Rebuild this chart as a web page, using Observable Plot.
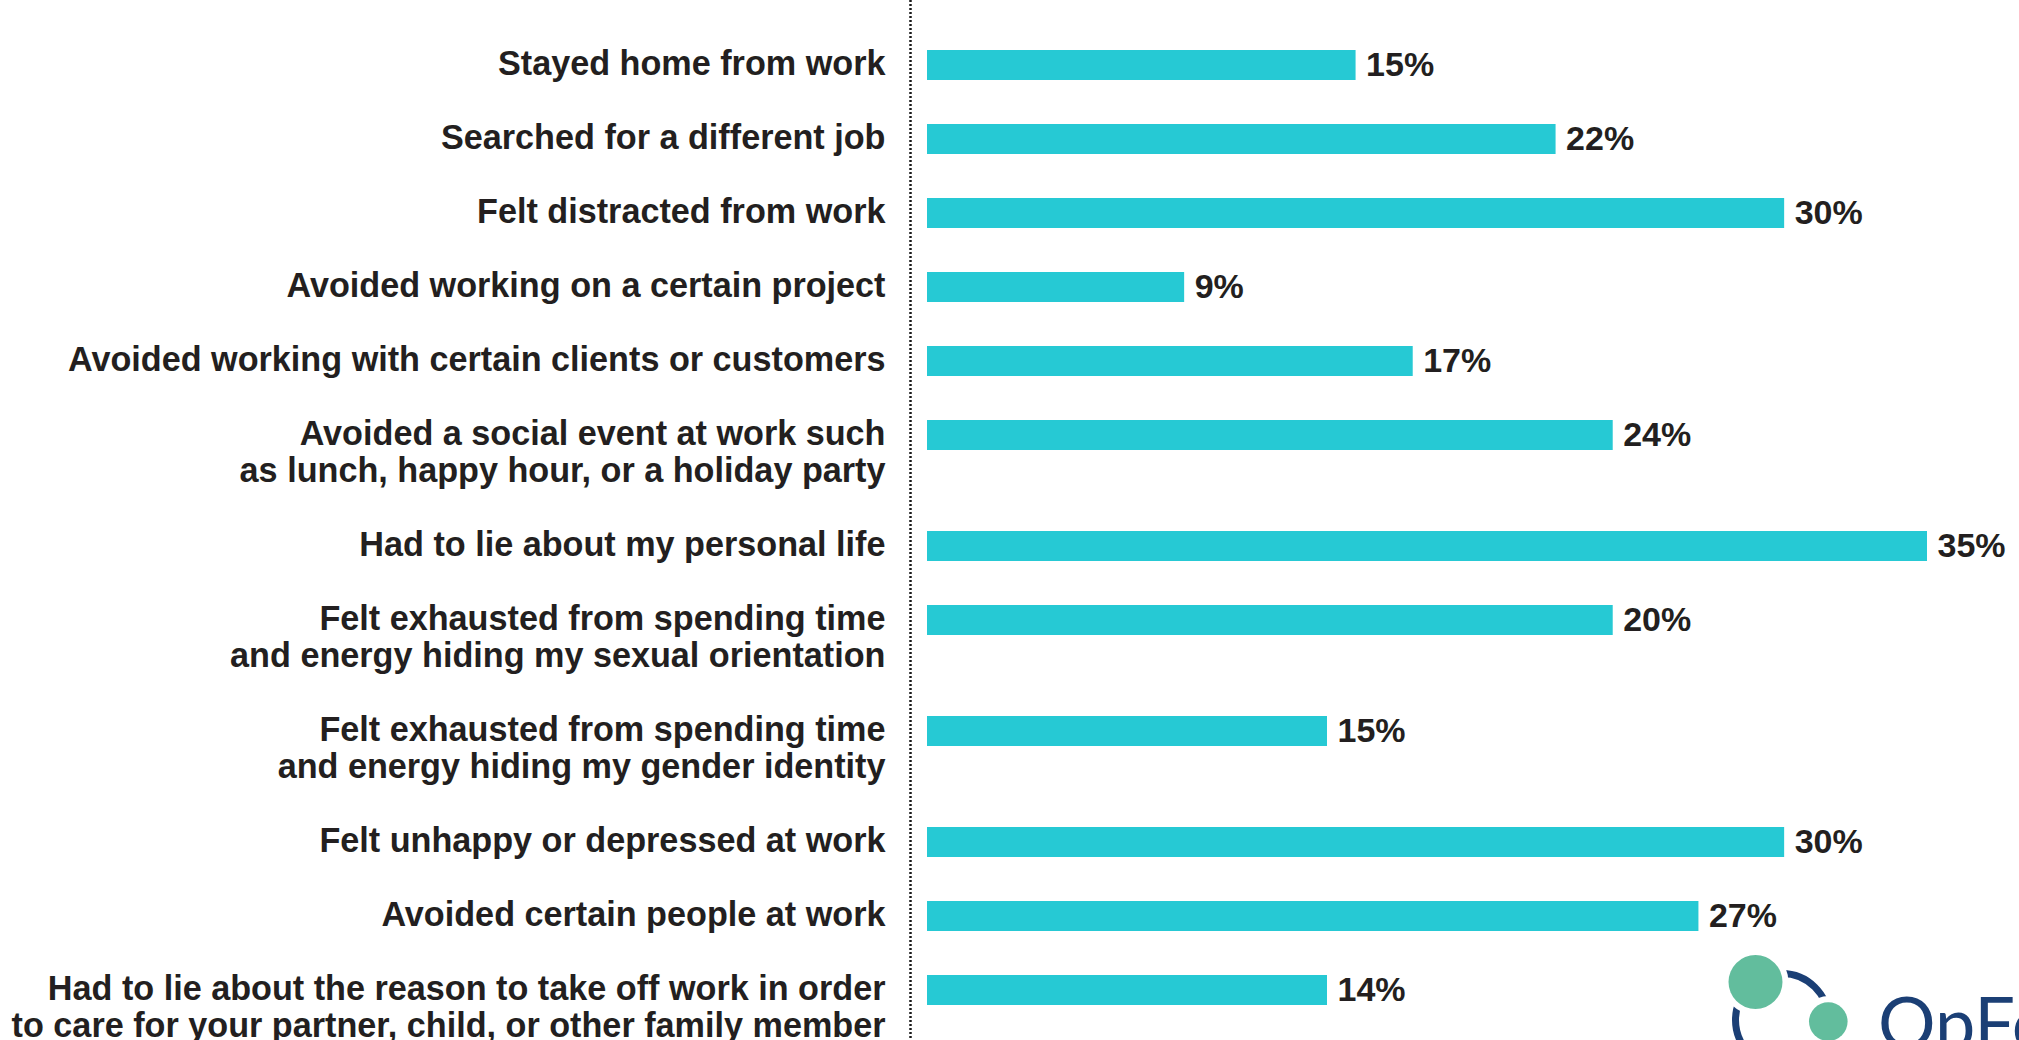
<!DOCTYPE html>
<html>
<head>
<meta charset="utf-8">
<script src="https://cdn.jsdelivr.net/npm/d3@7"></script>
<script src="https://cdn.jsdelivr.net/npm/@observablehq/plot@0.6"></script>
<style>
  html, body { margin: 0; padding: 0; background: #ffffff; }
  #wrap { position: relative; width: 2019px; height: 1040px; overflow: hidden; }
  #logo { position: absolute; left: 0; top: 0; }
</style>
</head>
<body>
<div id="wrap">
  <div id="chart"></div>
  <svg id="logo" width="2019" height="1040" viewBox="0 0 2019 1040">
    <circle cx="1782" cy="1020" r="46.5" fill="none" stroke="#1b3f75" stroke-width="7"/>
    <circle cx="1755.5" cy="982" r="33" fill="#ffffff"/>
    <circle cx="1755.5" cy="982" r="27" fill="#62bd9d"/>
    <circle cx="1828.3" cy="1021.6" r="25.5" fill="#ffffff"/>
    <circle cx="1828.3" cy="1021.6" r="19.3" fill="#62bd9d"/>
    <text x="1878" y="1049" font-family="Lato, 'Open Sans', sans-serif" font-size="72" fill="#1b3f75">OpFo</text>
  </svg>
</div>
<script>
// ---- data ----
const categories = [
  "Stayed home from work",
  "Searched for a different job",
  "Felt distracted from work",
  "Avoided working on a certain project",
  "Avoided working with certain clients or customers",
  "Avoided a social event at work such\nas lunch, happy hour, or a holiday party",
  "Had to lie about my personal life",
  "Felt exhausted from spending time\nand energy hiding my sexual orientation",
  "Felt exhausted from spending time\nand energy hiding my gender identity",
  "Felt unhappy or depressed at work",
  "Avoided certain people at work",
  "Had to lie about the reason to take off work in order\nto care for your partner, child, or other family member"
];
// bar lengths as drawn in the picture (percent)
const barValues = [15, 22, 30, 9, 17, 24, 35, 24, 14, 30, 27, 14];
// value labels as printed in the picture
const valueLabels = ["15%", "22%", "30%", "9%", "17%", "24%", "35%", "20%", "15%", "30%", "27%", "14%"];

// ---- build table: each row takes (lines + 1) line slots ----
let slot = 0;
const rows = categories.map((label, i) => {
  const lines = label.split("\n").length;
  const r = {label, bar: barValues[i], text: valueLabels[i], slot};
  slot += lines + 1;
  return r;
});
const lastSlot = rows[rows.length - 1].slot;
const slots = d3.range(lastSlot + 1);

const textColor = "#231f20";
const barColor = "#26c9d4";
const font = "'Liberation Sans', Arial, Helvetica, sans-serif";

const chart = Plot.plot({
  width: 2019,
  height: 1040,
  marginTop: 0,
  marginBottom: 0,
  marginLeft: 0,
  marginRight: 0,
  style: {fontFamily: font, background: "#ffffff", color: textColor},
  x: {domain: [0, 35], range: [927, 1927], axis: null},
  y: {type: "band", domain: slots, range: [46.5, 46.5 + 37 * (lastSlot + 1)],
      paddingInner: 0.2, paddingOuter: 0.1, axis: null},
  marks: [
    Plot.ruleX([0], {dx: -17, stroke: "#1a1a1a", strokeWidth: 2.5, strokeDasharray: "2,2"}),
    Plot.barX(rows, {x: "bar", y: "slot", fill: barColor}),
    Plot.text(rows, {
      x: 0, y: "slot", text: "label",
      textAnchor: "end", lineAnchor: "top", lineHeight: 1.085,
      dx: -42, dy: -17,
      fontSize: 34.2, fontWeight: "bold", fill: textColor
    }),
    Plot.text(rows, {
      x: "bar", y: "slot", text: "text",
      textAnchor: "start", dx: 10,
      fontSize: 34, fontWeight: "bold", fill: textColor
    })
  ]
});
document.getElementById("chart").appendChild(chart);
</script>
</body>
</html>
